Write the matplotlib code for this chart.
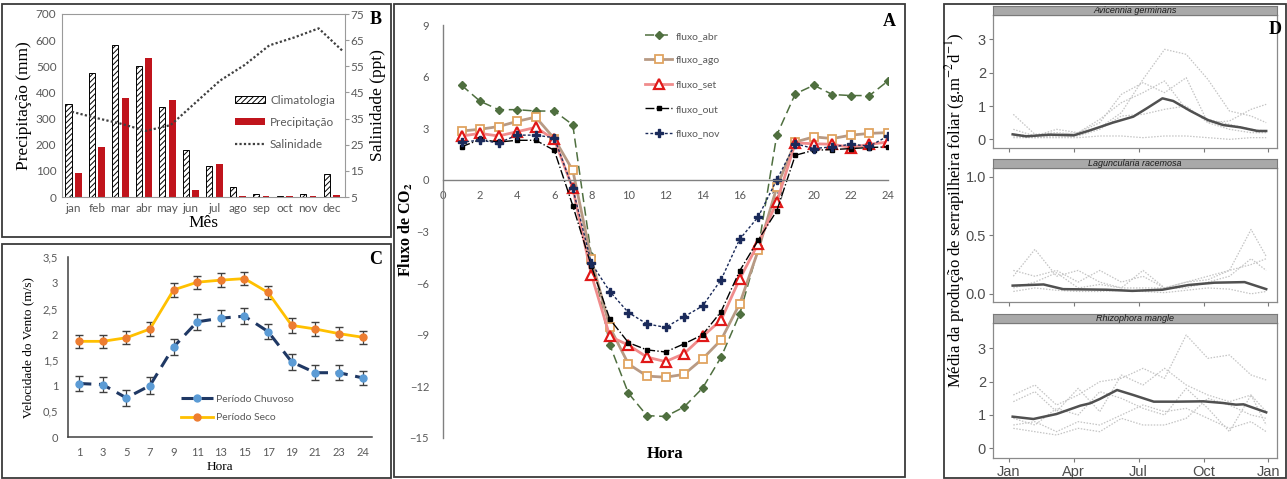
import numpy as np
import matplotlib
matplotlib.use('Agg')
from matplotlib import pyplot as plt
from matplotlib.patches import Rectangle, Patch
from matplotlib.lines import Line2D

plt.rcParams['mathtext.fontset'] = 'stix'
plt.rcParams['hatch.linewidth'] = 0.7

W, H = 1287, 479
SERIF = 'Liberation Serif'
TICKF = 'Lato'
GRAY = '#595959'

# ---------------- data ----------------
# B: monthly rainfall / salinity
meses = ['jan', 'feb', 'mar', 'abr', 'may', 'jun', 'jul', 'ago', 'sep', 'oct', 'nov', 'dec']
climatologia = [355, 475, 583, 500, 345, 178, 118, 40, 10, 2, 13, 88]
precipitacao = [92, 190, 380, 532, 370, 25, 125, 5, 2, 5, 5, 8]
salinidade = [37.6, 35.2, 33.0, 30.3, 32.5, 41.0, 49.5, 55.5, 63.0, 66.0, 69.5, 60.6]

# C: wind speed
horas_c = ['1', '3', '5', '7', '9', '11', '13', '15', '17', '19', '21', '23', '24']
vento_chuvoso = [1.04, 1.02, 0.76, 1.0, 1.75, 2.24, 2.31, 2.35, 2.05, 1.46, 1.25, 1.25, 1.15]
vento_seco = [1.86, 1.86, 1.93, 2.1, 2.86, 3.01, 3.05, 3.08, 2.81, 2.17, 2.1, 2.01, 1.94]
erro_chuvoso = [0.15, 0.15, 0.15, 0.16, 0.15, 0.15, 0.15, 0.15, 0.15, 0.15, 0.15, 0.15, 0.14]
erro_seco = [0.13, 0.13, 0.13, 0.13, 0.13, 0.13, 0.13, 0.13, 0.13, 0.14, 0.13, 0.13, 0.13]

# A: CO2 flux
horas = list(range(1, 25))
fluxo_abr = [5.5, 4.57, 4.08, 4.08, 4.0, 4.0, 3.2, -4.4, -9.6, -12.4, -13.7, -13.75,
             -13.2, -12.1, -10.3, -7.8, -4.0, 2.6, 5.0, 5.5, 4.96, 4.9, 4.9, 5.75]
fluxo_ago = [2.84, 2.94, 3.1, 3.4, 3.65, 2.4, 0.55, -4.6, -8.57, -10.7, -11.4, -11.47,
             -11.3, -10.4, -9.3, -7.2, -4.1, -0.43, 2.2, 2.5, 2.4, 2.6, 2.7, 2.75]
fluxo_set = [2.55, 2.7, 2.55, 2.8, 3.05, 2.35, -0.5, -5.5, -9.1, -9.6, -10.3, -10.56,
             -10.1, -9.1, -8.14, -5.76, -3.7, -1.3, 2.15, 2.1, 2.07, 1.88, 2.07, 2.2]
fluxo_out = [1.92, 2.35, 2.2, 2.3, 2.3, 1.72, -1.5, -5.0, -8.1, -9.46, -9.88, -10.0,
             -9.53, -9.0, -7.65, -5.29, -3.5, -1.8, 1.43, 1.72, 1.76, 1.82, 1.88, 1.92]
fluxo_nov = [2.2, 2.3, 2.15, 2.6, 2.6, 2.45, -0.5, -4.84, -6.49, -7.71, -8.37, -8.57,
             -7.95, -7.33, -5.8, -3.45, -2.15, 0.0, 2.1, 1.82, 1.92, 2.07, 1.96, 2.55]

# D: leaf litter (months since Jan)
mes_ind = [0.2, 1.2, 2.2, 3.2, 4.2, 5.2, 6.2, 7.2, 8.2, 9.2, 10.2, 11.2, 11.9]
avi_ind = [
    [0.75, 0.15, 0.2, 0.15, 0.35, 0.8, 1.8, 2.7, 2.55, 1.8, 0.85, 0.7, 0.5],
    [0.3, 0.1, 0.3, 0.2, 0.5, 1.35, 1.7, 1.4, 1.85, 0.5, 0.55, 0.9, 1.05],
    [0.15, 0.1, 0.15, 0.2, 0.6, 1.1, 1.4, 1.75, 0.9, 0.6, 0.45, 0.3, 0.25],
    [0.1, 0.05, 0.1, 0.1, 0.3, 0.7, 0.75, 0.9, 1.0, 0.5, 0.3, 0.2, 0.2],
    [0.05, 0.05, 0.05, 0.05, 0.1, 0.1, 0.05, 0.1, 0.1, 0.05, 0.0, 0.05, 0.05],
]
lag_ind = [
    [0.15, 0.38, 0.15, 0.2, 0.1, 0.05, 0.05, 0.05, 0.1, 0.15, 0.2, 0.55, 0.32],
    [0.2, 0.15, 0.2, 0.1, 0.2, 0.1, 0.15, 0.05, 0.1, 0.12, 0.2, 0.25, 0.3],
    [0.05, 0.1, 0.18, 0.05, 0.08, 0.05, 0.2, 0.05, 0.05, 0.1, 0.15, 0.3, 0.2],
    [0.02, 0.05, 0.03, 0.02, 0.02, 0.03, 0.02, 0.01, 0.03, 0.05, 0.04, 0.0, 0.02],
]
rhi_ind = [
    [1.6, 1.9, 1.3, 1.6, 2.0, 2.1, 2.4, 2.1, 3.4, 2.7, 2.8, 2.2, 2.05],
    [1.4, 1.7, 1.1, 1.8, 1.1, 2.2, 1.9, 2.4, 1.9, 1.6, 1.4, 1.6, 1.1],
    [0.9, 0.7, 1.2, 1.0, 1.7, 1.5, 1.2, 1.0, 1.8, 1.2, 0.5, 1.6, 0.7],
    [0.7, 0.8, 0.5, 0.8, 0.7, 1.0, 1.3, 1.1, 1.2, 0.9, 0.6, 0.8, 0.5],
    [0.6, 0.5, 0.4, 0.6, 0.5, 0.9, 0.7, 0.7, 0.9, 1.5, 1.3, 1.0, 0.9],
]
avi_mes = [0.17, 0.8, 1.9, 3.0, 3.75, 4.8, 5.75, 6.4, 7.1, 7.6, 8.4, 9.2, 9.9, 10.7, 11.5, 11.9]
avi_media = [0.15, 0.09, 0.14, 0.12, 0.27, 0.5, 0.68, 0.94, 1.23, 1.15, 0.85, 0.58, 0.43, 0.36, 0.25, 0.25]
lag_mes = [0.17, 1.6, 2.5, 4.5, 5.7, 7.1, 8.3, 9.5, 10.9, 11.9]
lag_media = [0.07, 0.08, 0.04, 0.035, 0.025, 0.035, 0.075, 0.095, 0.1, 0.04]
rhi_mes = [0.17, 1.13, 2.2, 3.3, 3.75, 4.2, 5.0, 5.75, 6.7, 7.75, 9.0, 9.9, 10.5, 10.85, 11.9]
rhi_media = [0.95, 0.88, 1.03, 1.28, 1.35, 1.48, 1.75, 1.6, 1.4, 1.4, 1.41, 1.36, 1.31, 1.32, 1.08]


def box(x0, y0, x1, y1):
    # pixel box (origin top-left) to figure rect
    return [x0 / W, 1 - y1 / H, (x1 - x0) / W, (y1 - y0) / H]


def frame(fig, x0, y0, x1, y1):
    fig.patches.append(Rectangle((x0 / W, 1 - y1 / H), (x1 - x0) / W, (y1 - y0) / H,
                                 transform=fig.transFigure, fill=False,
                                 edgecolor='#3a3a3a', linewidth=1.3))


def style_ticks(ax, size=8):
    for lab in ax.get_xticklabels() + ax.get_yticklabels():
        lab.set_fontfamily(TICKF)
        lab.set_fontsize(size)
        lab.set_color(GRAY)


fig = plt.figure(figsize=(W / 100, H / 100), dpi=100)

# ---------------- Panel B ----------------
axb = fig.add_axes(box(62, 14, 345, 197))
x = np.arange(len(meses))
axb.bar(x - 0.21, climatologia, width=0.27, color='white', edgecolor='black',
        hatch='//////', linewidth=0.7, label='Climatologia')
axb.bar(x + 0.21, precipitacao, width=0.29, color='#c0141c', label='Precipitação')
axb.set_xlim(-0.48, 11.57)
axb.set_ylim(0, 700)
axb.set_yticks(range(0, 701, 100))
axb.set_xticks(x)
axb.set_xticklabels(meses)
axb.tick_params(length=0, pad=4)
style_ticks(axb, 8.5)
for s in axb.spines.values():
    s.set_color('#9a9a9a')
    s.set_linewidth(0.8)
axb.set_ylabel('Precipitação (mm)', fontfamily=SERIF, fontsize=12.5, labelpad=3)
axb.set_xlabel('Mês', fontfamily=SERIF, fontsize=12.5, labelpad=1)

axs = axb.twinx()
sal_pos = np.linspace(-0.06, 11.5, len(salinidade))
axs.plot(sal_pos, salinidade, color='#404040', linestyle=(0, (1, 1)), linewidth=1.6,
         label='Salinidade')
axs.set_ylim(5, 75)
axs.set_yticks(range(5, 76, 10))
axs.tick_params(length=3, color='#9a9a9a', pad=1)
style_ticks(axs, 8.5)
for s in axs.spines.values():
    s.set_visible(False)
axs.set_ylabel('Salinidade (ppt)', fontfamily=SERIF, fontsize=12.5, labelpad=4)

hb = [Patch(facecolor='white', edgecolor='black', hatch='//////', linewidth=0.7),
      Patch(facecolor='#c0141c'),
      Line2D([0], [0], color='#404040', linestyle=(0, (1, 1)), linewidth=1.6)]
leg = fig.legend(hb, ['Climatologia', 'Precipitação', 'Salinidade'], loc='upper left',
                 bbox_to_anchor=(224 / W, 1 - 84 / H), frameon=False, handlelength=2.6,
                 handleheight=0.6, labelspacing=0.95, handletextpad=0.4,
                 prop={'family': TICKF, 'size': 8.5})
for t in leg.get_texts():
    t.set_color(GRAY)
fig.text(376 / W, 1 - 19 / H, 'B', fontfamily=SERIF, fontweight='bold', fontsize=13,
         ha='center', va='center')

# ---------------- Panel C ----------------
axc = fig.add_axes(box(68, 257, 372, 437))
xc = np.arange(len(horas_c))
estilo_chuvoso = dict(color='#1f3864', linestyle=(0, (4, 2.5)), linewidth=2.2, marker='o',
                      markersize=5, markerfacecolor='#5b9bd5', markeredgecolor='#5b9bd5')
estilo_seco = dict(color='#ffc000', linewidth=2, marker='o', markersize=5,
                   markerfacecolor='#ed7d31', markeredgecolor='#ed7d31')
axc.errorbar(xc, vento_chuvoso, yerr=erro_chuvoso, ecolor='#404040', elinewidth=0.9,
             capsize=3, **estilo_chuvoso)
axc.errorbar(xc, vento_seco, yerr=erro_seco, ecolor='#404040', elinewidth=0.9,
             capsize=3, **estilo_seco)
axc.set_xlim(-0.47, 12.4)
axc.set_ylim(0, 3.5)
axc.set_yticks(np.arange(0, 3.51, 0.5))
axc.set_yticklabels(['0', '0,5', '1', '1,5', '2', '2,5', '3', '3,5'])
axc.set_xticks(xc)
axc.set_xticklabels(horas_c)
axc.tick_params(length=0, pad=7)
style_ticks(axc, 8)
for s in ['top', 'right']:
    axc.spines[s].set_visible(False)
for s in ['left', 'bottom']:
    axc.spines[s].set_color('#404040')
    axc.spines[s].set_linewidth(1.1)
axc.set_ylabel('Velocidade do Vento (m/s)', fontfamily=SERIF, fontsize=9.5, labelpad=6)
axc.set_xlabel('Hora', fontfamily=SERIF, fontsize=9.5, labelpad=2)
hc = [Line2D([0], [0], **estilo_chuvoso), Line2D([0], [0], **estilo_seco)]
legc = axc.legend(hc, ['Período Chuvoso', 'Período Seco'], loc='upper left',
                  bbox_to_anchor=(172 / W, 1 - 385 / H),
                  bbox_transform=fig.transFigure, frameon=False, handlelength=3.0,
                  labelspacing=0.9, handletextpad=0.3, prop={'family': TICKF, 'size': 7.5})
for t in legc.get_texts():
    t.set_color(GRAY)
fig.text(376 / W, 1 - 260 / H, 'C', fontfamily=SERIF, fontweight='bold', fontsize=13,
         ha='center', va='center')

# ---------------- Panel A ----------------
axa = fig.add_axes(box(443, 25, 888, 438))
axa.plot(horas, fluxo_abr, color='#4f6f3f', linestyle=(0, (6, 3)), linewidth=1.1,
         marker='D', markersize=4, label='fluxo_abr')
axa.plot(horas, fluxo_ago, color='#b89a84', linewidth=2, marker='s', markersize=6,
         markerfacecolor='white', markeredgecolor='#e0a460', markeredgewidth=1.3,
         label='fluxo_ago')
axa.plot(horas, fluxo_set, color='#f08c8c', linewidth=2, marker='^', markersize=7,
         markerfacecolor='white', markeredgecolor='#e01818', markeredgewidth=1.6,
         label='fluxo_set')
axa.plot(horas, fluxo_out, color='black', linestyle='-.', linewidth=1, marker='s',
         markersize=3.5, label='fluxo_out')
axa.plot(horas, fluxo_nov, color='#1a2a5a', linestyle=(0, (2, 1.5)), linewidth=1,
         marker='P', markersize=5.5, label='fluxo_nov')
axa.set_xlim(0, 24)
axa.set_ylim(-15, 9)
axa.set_xticks(range(0, 25, 2))
axa.set_yticks(range(-15, 10, 3))
axa.spines['bottom'].set_position(('data', 0))
for s in ['top', 'right']:
    axa.spines[s].set_visible(False)
for s in ['left', 'bottom']:
    axa.spines[s].set_color('#808080')
    axa.spines[s].set_linewidth(1)
axa.tick_params(length=0)
axa.tick_params(axis='x', pad=7)
axa.tick_params(axis='y', pad=10)
style_ticks(axa, 8)
fig.text(406 / W, 1 - 230 / H, 'Fluxo de CO$_\\mathbf{2}$', fontfamily=SERIF, fontweight='bold',
         fontsize=11.5, rotation=90, ha='center', va='center')
fig.text(665 / W, 1 - 454 / H, 'Hora', fontfamily=SERIF, fontweight='bold', fontsize=12,
         ha='center', va='center')
lega = axa.legend(loc='upper left', bbox_to_anchor=(636 / W, 1 - 22 / H),
                  bbox_transform=fig.transFigure, frameon=False, handlelength=2.6,
                  labelspacing=1.45, handletextpad=0.35, prop={'family': TICKF, 'size': 7.5})
for t in lega.get_texts():
    t.set_color(GRAY)
fig.text(889 / W, 1 - 22 / H, 'A', fontfamily=SERIF, fontweight='bold', fontsize=13,
         ha='center', va='center')

# ---------------- Panel D ----------------
facetas = [
    ('Avicennia germinans', (15, 148), (-0.26, 3.73), [0, 1, 2, 3], ['0', '1', '2', '3'],
     avi_ind, avi_mes, avi_media),
    ('Laguncularia racemosa', (168, 302), (-0.07, 1.075), [0, 0.5, 1.0], ['0.0', '0.5', '1.0'],
     lag_ind, lag_mes, lag_media),
    ('Rhizophora mangle', (323, 458), (-0.29, 3.76), [0, 1, 2, 3], ['0', '1', '2', '3'],
     rhi_ind, rhi_mes, rhi_media),
]
for i, (nome, (y0, y1), ylim, yt, ytl, ind, xm, media) in enumerate(facetas):
    ax = fig.add_axes(box(993, y0, 1277, y1))
    for serie in ind:
        ax.plot(mes_ind, serie, color='#c4c4c4', linestyle=(0, (1.2, 1.2)), linewidth=0.9)
    ax.plot(xm, media, color='#505050', linewidth=1.8)
    ax.set_xlim(-0.74, 12.4)
    ax.set_ylim(*ylim)
    ax.set_yticks(yt)
    ax.set_yticklabels(ytl)
    ax.set_xticks([0, 3, 6, 9, 12])
    if i == 2:
        ax.set_xticklabels(['Jan', 'Apr', 'Jul', 'Oct', 'Jan'])
    else:
        ax.set_xticklabels([])
    ax.tick_params(length=3, color='#7a7a7a', width=0.8, pad=2, labelsize=10.5,
                   labelcolor='#4d4d4d')
    for lab in ax.get_xticklabels() + ax.get_yticklabels():
        lab.set_fontfamily('Liberation Sans')
    for s in ax.spines.values():
        s.set_color('#8a8a8a')
        s.set_linewidth(0.9)
    strip = fig.add_axes(box(993, y0 - 9, 1277, y0))
    strip.set_facecolor('#a9a9a9')
    strip.set_xticks([])
    strip.set_yticks([])
    for s in strip.spines.values():
        s.set_color('#7a7a7a')
        s.set_linewidth(0.8)
    strip.text(0.5, 0.45, nome, transform=strip.transAxes, ha='center', va='center',
               fontsize=6.5, style='italic', family='Liberation Sans', color='#1a1a1a')

fig.text(955 / W, 1 - 210 / H, 'Média da produção de serrapilheira foliar (g.m$^{-2}$d$^{-1}$)',
         fontfamily=SERIF, fontsize=12, rotation=90, ha='center', va='center')
fig.text(1275 / W, 1 - 30 / H, 'D', fontfamily=SERIF, fontweight='bold', fontsize=13,
         ha='center', va='center')

# panel frames
frame(fig, 2, 4, 391, 237)
frame(fig, 2, 244, 391, 478)
frame(fig, 394, 4, 905, 477)
frame(fig, 944, 4, 1286, 478)

fig.savefig('out.png', dpi=100)
